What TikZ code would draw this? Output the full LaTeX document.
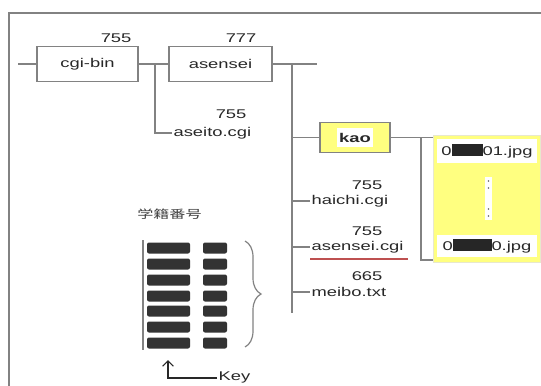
\documentclass[tikz,border=0pt]{standalone}
\usepackage{fontspec}
\usepackage{graphicx}
\setmainfont{Liberation Sans}
\newfontfamily\cjk{Noto Sans CJK JP}
\usetikzlibrary{decorations.pathreplacing,arrows.meta}
\newcommand\wx[1]{\scalebox{1.45}[1]{#1}}
\newcommand\smudge[1]{{\color{black!85}\rule[-0.2ex]{#1}{1.8ex}}}
\definecolor{lemon}{RGB}{255,255,128}
\definecolor{linegray}{RGB}{130,130,130}
\definecolor{txtgray}{RGB}{40,40,40}
\definecolor{ulred}{RGB}{190,80,80}
\tikzset{
  ln/.style={draw=linegray, line width=1.2pt},
  txt/.style={font=\fontsize{9.5}{11}\selectfont, text=txtgray, inner sep=1pt},
  dirbox/.style={draw=linegray, line width=1.2pt, fill=white, minimum height=26.25pt},
  blobcell/.style={fill=black!80, rounded corners=1.5pt},
}
\begin{document}
\begin{tikzpicture}[x=0.75pt,y=-0.75pt]
\fill[white] (0,0) rectangle (541,385);
\useasboundingbox (0,0) rectangle (541,385);
% frame
\draw[linegray, line width=1.6pt] (9,386) -- (9,13) -- (542,13);

% directory boxes
\node[dirbox, minimum width=75.75pt, txt] (cgi) at (87.5,64) {\wx{cgi-bin}};
\node[dirbox, minimum width=77.25pt, txt] (ase) at (220.5,64) {\wx{asensei}};
\node[txt, anchor=base east] (p1) at (133,43) {\wx{755}};
\node[txt, anchor=base east] (p2) at (258,43) {\wx{777}};

\coordinate (l0) at (18,64);
\draw[ln] (l0) -- (cgi.west);
\draw[ln] (cgi.east) -- (ase.west);
\coordinate (b1) at (155,64);
\node[txt, anchor=west] (aseito) at (172,133) {\wx{aseito.cgi}};
\node[txt, anchor=base east] (p3) at (248,118) {\wx{755}};
\draw[ln] (b1) |- (aseito.west);

% asensei children
\coordinate (e1) at (317,64);
\draw[ln] (ase.east) -- (e1);
\coordinate (v0) at (292,64);
\coordinate (v1) at (292,313);
\draw[ln] (v0) -- (v1);

% kao
\node[draw=linegray, line width=1.2pt, fill=lemon, minimum width=52.5pt, minimum height=22.5pt] (kaobox) at (355,137.5) {};
\node[fill=white, minimum width=27pt, minimum height=14pt, inner sep=0pt, font=\fontsize{9.5}{11}\selectfont\bfseries, text=txtgray] (kao) at (355,137.5) {\wx{kao}};
\draw[ln] (kaobox.west -| v0) -- (kaobox.west);

% files
\node[fill=lemon, draw=lemon!70!black!30, line width=0.6pt, minimum width=80.25pt, minimum height=95.25pt, inner sep=0pt] (files) at (486.5,198.5) {};
\node[fill=white, minimum width=75pt, minimum height=18pt, inner sep=0pt, txt] (f1) at (487,151) {\wx{0\smudge{16pt}01.jpg}};
\node[fill=white, minimum width=5pt, minimum height=32pt, inner sep=0pt] (dots) at (488.5,198.5) {};
\foreach \yy in {181,188,209,216} \fill[black!60] (488.5,\yy) circle (0.8);
\node[fill=white, minimum width=75pt, minimum height=16.5pt, inner sep=0pt, txt] (f2) at (487,246) {\wx{0\smudge{20pt}0.jpg}};
\coordinate (fb) at (421,260);
\draw[ln] (kaobox.east) -- (kaobox.east -| files.west);
\draw[ln] (kaobox.east -| fb) -- (fb) -- (fb -| files.west);

% files in asensei
\node[txt, anchor=west] (haichi) at (310,201) {\wx{haichi.cgi}};
\node[txt, anchor=base east] (p4) at (384,189) {\wx{755}};
\draw[ln] (haichi.west -| v0) -- (haichi.west);
\node[txt, anchor=west] (acgi) at (310,247) {\wx{asensei.cgi}};
\node[txt, anchor=base east] (p5) at (384,235) {\wx{755}};
\draw[ln] (acgi.west -| v0) -- (acgi.west);
\draw[ulred, line width=1.2pt] ([yshift=-3.5pt]acgi.south west) -- ([yshift=-3.5pt,xshift=2pt]acgi.south east);
\node[txt, anchor=west] (meibo) at (310,292) {\wx{meibo.txt}};
\node[txt, anchor=base east] (p6) at (384,280) {\wx{665}};
\draw[ln] (meibo.west -| v0) -- (meibo.west);

% key table
\node[anchor=west, inner sep=0pt, text=black!75, font=\cjk\fontsize{8.5}{10}\selectfont] (gakuseki) at (137,214) {\scalebox{1.42}[1]{学籍番号}};
\draw[linegray, line width=1.4pt] (143,240) -- (143,350);
\foreach \yy in {248,264,280,296,311,327,343} {
  \fill[blobcell] (147,\yy-5.5) rectangle (190,\yy+5.5);
  \fill[blobcell] (203,\yy-5.5) rectangle (227,\yy+5.5);
}
\draw[linegray, line width=0.9pt, decorate, decoration={brace, amplitude=12pt}] (245,241) -- (245,347);

% Key arrow
\node[txt, anchor=west] (key) at (217,377.5) {\wx{Key}};
\coordinate (kc) at (168,378);
\coordinate (kt) at (168,360);
\draw[txtgray, line width=0.9pt, -{Straight Barb[length=4pt,width=8pt]}] (kc -| key.west) -- (kc) -- (kt);
\end{tikzpicture}
\end{document}
